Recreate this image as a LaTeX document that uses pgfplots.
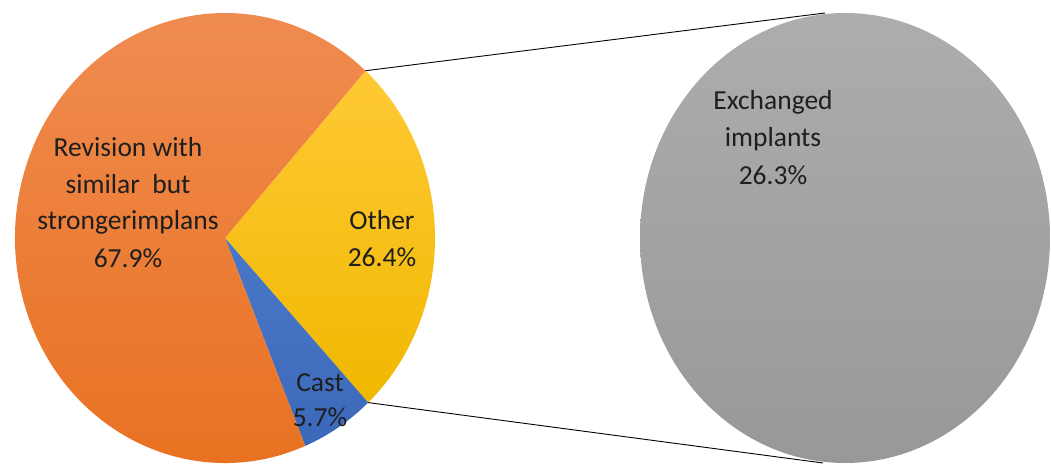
\documentclass[border=0pt]{standalone}
\usepackage{pgfplots}
\pgfplotsset{compat=1.18}
\usepackage{fontspec}
\setmainfont{Carlito}
\definecolor{orT}{HTML}{F08C52}
\definecolor{orB}{HTML}{E8701E}
\definecolor{yeT}{HTML}{FFC935}
\definecolor{yeB}{HTML}{F0B800}
\definecolor{blT}{HTML}{4A78C8}
\definecolor{blB}{HTML}{3C68BA}
\definecolor{grT}{HTML}{ADADAD}
\definecolor{grB}{HTML}{989898}
\definecolor{txt}{HTML}{1E1E1E}
\tikzset{lbl/.style={font=\fontsize{27.5}{37}\selectfont, text=txt, anchor=base, inner sep=0pt}}
\begin{document}
\begin{tikzpicture}
% data (percent)
\def\vRev{67.9}
\def\vOther{26.4}
\def\vCast{5.7}
\def\vExch{26.3}
\pgfmathsetmacro\aA{0.5+\vOther*1.8}
\pgfmathsetmacro\aB{\aA-\vOther*3.6}
\pgfmathsetmacro\aC{\aB-\vCast*3.6}
\pgfmathsetmacro\aD{\aC-\vRev*3.6}
\begin{axis}[name=ax,width=1051pt,height=465pt,scale only axis,
  xmin=0,xmax=1051,ymin=0,ymax=465,hide axis,clip=false]
% left pie
\shade[top color=yeT,bottom color=yeB] (axis cs:225,227) -- ++(\aA:210pt and 225pt)
   arc[start angle=\aA, end angle=\aB, x radius=210pt, y radius=225pt] -- cycle;
\shade[top color=blT,bottom color=blB] (axis cs:225,227) -- ++(\aB:210pt and 225pt)
   arc[start angle=\aB, end angle=\aC, x radius=210pt, y radius=225pt] -- cycle;
\shade[top color=orT,bottom color=orB] (axis cs:225,227) -- ++(\aC:210pt and 225pt)
   arc[start angle=\aC, end angle=\aD, x radius=210pt, y radius=225pt] -- cycle;
% right pie
\shade[top color=grT,bottom color=grB] (axis cs:845,227) ellipse[x radius=205pt, y radius=225pt];
% connectors
\path (axis cs:225,227) ++(\aA:210pt and 225pt) coordinate (P1);
\path (axis cs:225,227) ++(\aB:210pt and 225pt) coordinate (P2);
\draw[black, line width=0.9pt] (P1) -- (axis cs:825,452);
\draw[black, line width=0.9pt] (P2) -- (axis cs:823,2);
% labels
\node[lbl] at (axis cs:128,308) {Revision with};
\node[lbl] at (axis cs:128,271) {similar\ \ but};
\node[lbl] at (axis cs:128,235) {strongerimplans};
\node[lbl] at (axis cs:128,197) {67.9\%};
\node[lbl] at (axis cs:382,235) {Other};
\node[lbl] at (axis cs:382,198) {26.4\%};
\node[lbl] at (axis cs:320,73) {Cast};
\node[lbl] at (axis cs:320,38) {5.7\%};
\node[lbl] at (axis cs:773,355) {Exchanged};
\node[lbl] at (axis cs:773,318) {implants};
\node[lbl] at (axis cs:773,280) {26.3\%};
\end{axis}
\pgfresetboundingbox
\path (ax.south west) rectangle (ax.north east);
\end{tikzpicture}
\end{document}
